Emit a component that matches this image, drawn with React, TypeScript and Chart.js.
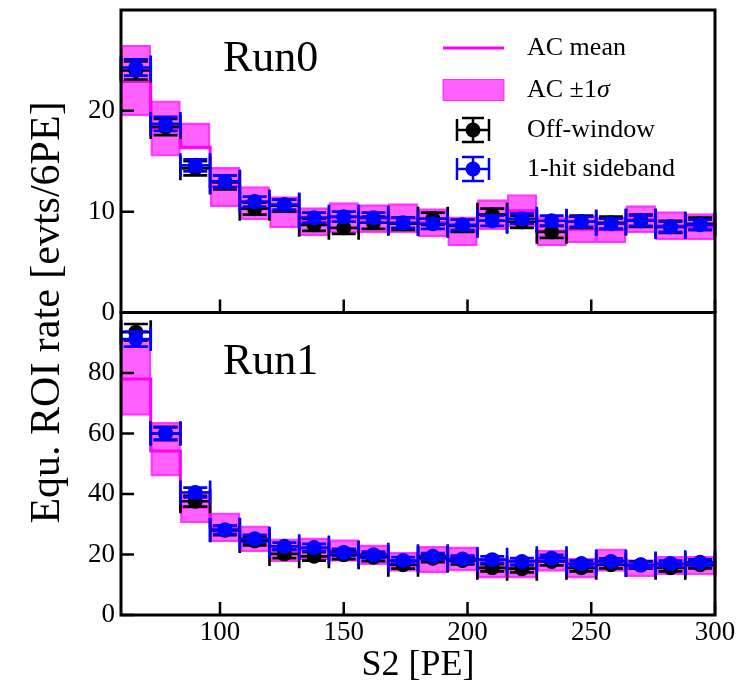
import React, { useEffect, useRef } from "react";
import { Chart, registerables } from "chart.js";

Chart.register(...registerables);

const FONT = '"Liberation Serif", "DejaVu Serif", serif';

// bin edges of the S2 histogram [PE]
const binEdges = [60, 72, 84, 96, 108, 120, 132, 144, 156, 168, 180, 192, 204, 216, 228, 240, 252, 264, 276, 288, 300];

// Run0
const run0AcMean = [22.9, 18.2, 16.4, 12.5, 10.9, 10.0, 9.0, 9.4, 9.3, 9.35, 8.9, 8.05, 9.7, 10.1, 8.05, 8.25, 8.2, 9.25, 8.6, 8.5];
const run0AcLow = [19.5, 15.5, 16.2, 10.5, 9.2, 8.4, 7.6, 7.9, 7.9, 7.9, 7.5, 6.6, 8.2, 8.5, 6.6, 6.9, 6.9, 7.9, 7.2, 7.2];
const run0AcHigh = [26.5, 21.0, 18.8, 14.4, 12.5, 11.5, 10.4, 10.9, 10.7, 10.8, 10.3, 9.5, 11.2, 11.7, 9.5, 9.6, 9.5, 10.6, 10.0, 9.8];
const run0OffWindow = [24.0, 18.4, 14.3, 12.9, 10.3, 10.6, 8.7, 8.4, 8.9, 8.8, 9.3, 8.6, 9.7, 9.0, 8.0, 9.0, 8.9, 9.1, 8.5, 8.8];
const run0OffWindowErr = [0.9, 0.8, 0.7, 0.7, 0.6, 0.6, 0.6, 0.6, 0.6, 0.6, 0.6, 0.6, 0.6, 0.6, 0.6, 0.6, 0.6, 0.6, 0.6, 0.6];
const run0Sideband = [24.3, 18.7, 14.6, 13.0, 11.0, 10.7, 9.4, 9.5, 9.4, 8.9, 8.8, 8.7, 9.1, 9.3, 9.1, 9.0, 8.8, 9.1, 8.5, 8.7];
const run0SidebandErr = [0.8, 0.7, 0.6, 0.6, 0.5, 0.5, 0.5, 0.5, 0.5, 0.5, 0.5, 0.5, 0.5, 0.5, 0.5, 0.5, 0.5, 0.5, 0.5, 0.5];

// Run1
const run1AcMean = [78.0, 54.2, 35.7, 29.0, 25.2, 21.4, 21.8, 21.3, 19.9, 17.5, 18.3, 18.5, 15.5, 15.3, 18.0, 15.5, 18.1, 15.5, 16.3, 16.3];
const run1AcLow = [66.0, 45.9, 30.5, 24.2, 20.9, 17.6, 18.2, 17.7, 16.6, 14.4, 13.9, 14.5, 12.2, 12.2, 14.4, 12.2, 14.4, 12.7, 13.3, 13.3];
const run1AcHigh = [91.0, 63.7, 40.9, 33.8, 29.5, 25.2, 25.5, 24.9, 23.2, 20.7, 22.7, 22.5, 18.8, 18.5, 21.5, 18.8, 21.9, 18.3, 19.4, 19.4];
const run1OffWindow = [93.5, 60.0, 37.6, 28.0, 24.5, 20.2, 19.4, 19.9, 19.1, 16.6, 18.8, 18.0, 15.6, 15.3, 17.7, 15.6, 16.6, 16.5, 15.6, 16.6];
const run1OffWindowErr = [2.7, 2.2, 1.8, 1.6, 1.5, 1.4, 1.4, 1.4, 1.3, 1.3, 1.3, 1.3, 1.2, 1.2, 1.3, 1.2, 1.2, 1.2, 1.2, 1.2];
const run1Sideband = [91.2, 60.0, 40.5, 28.2, 25.2, 22.7, 22.3, 20.7, 19.9, 18.0, 19.4, 18.5, 18.3, 17.7, 18.8, 17.0, 17.7, 16.6, 17.0, 17.4];
const run1SidebandErr = [2.5, 2.0, 1.6, 1.4, 1.3, 1.2, 1.2, 1.2, 1.1, 1.1, 1.1, 1.1, 1.1, 1.1, 1.1, 1.0, 1.0, 1.0, 1.0, 1.0];

const panelNames = ["Run0", "Run1"];
const run0Max = 30;
const run1Max = 100;

const MAGENTA = "#ff00ff";
const BAND = "rgba(255, 0, 255, 0.62)";
const BAND_EDGE = "rgba(255, 0, 255, 0.75)";
const CAP = 12;

const centers = binEdges.slice(0, -1).map((e, i) => (e + binEdges[i + 1]) / 2);

const bandData = (lo: number[], hi: number[]) => centers.map((c, i) => ({ x: c, y: [lo[i], hi[i]] }));
// one point per bin edge; each bin's mean runs from its left edge to the next edge
const stepData = (mean: number[]) =>
  binEdges.map((e, i) => ({ x: e, y: mean[Math.min(i, mean.length - 1)] }));
const pointData = (vals: number[], err: number[]) =>
  centers.map((c, i) => ({
    x: c,
    y: vals[i],
    xMin: binEdges[i],
    xMax: binEdges[i + 1],
    yMin: vals[i] - err[i],
    yMax: vals[i] + err[i],
  }));

function drawErrorIcon(ctx: CanvasRenderingContext2D, cx: number, cy: number, color: string) {
  ctx.strokeStyle = color;
  ctx.fillStyle = color;
  ctx.lineWidth = 2.5;
  ctx.beginPath();
  ctx.moveTo(cx - 16, cy); ctx.lineTo(cx + 16, cy);
  ctx.moveTo(cx - 16, cy - 11); ctx.lineTo(cx - 16, cy + 11);
  ctx.moveTo(cx + 16, cy - 11); ctx.lineTo(cx + 16, cy + 11);
  ctx.moveTo(cx, cy - 12); ctx.lineTo(cx, cy + 12);
  ctx.moveTo(cx - 11, cy - 12); ctx.lineTo(cx + 11, cy - 12);
  ctx.moveTo(cx - 11, cy + 12); ctx.lineTo(cx + 11, cy + 12);
  ctx.stroke();
  ctx.beginPath();
  ctx.arc(cx, cy, 7.5, 0, Math.PI * 2);
  ctx.fill();
}

const errorBarPlugin = {
  id: "errorBars",
  beforeDatasetDraw(chart: any, args: any) {
    const ds = chart.data.datasets[args.index];
    if (!ds.errorBars) return;
    const xs = chart.scales[args.meta.xAxisID];
    const ys = chart.scales[args.meta.yAxisID];
    const ctx = chart.ctx;
    ctx.save();
    ctx.strokeStyle = ds.backgroundColor;
    ctx.lineWidth = 2.7;
    ctx.beginPath();
    ds.data.forEach((p: any) => {
      const x = xs.getPixelForValue(p.x);
      const y = ys.getPixelForValue(p.y);
      const x0 = xs.getPixelForValue(p.xMin);
      const x1 = xs.getPixelForValue(p.xMax);
      const y0 = ys.getPixelForValue(p.yMin);
      const y1 = ys.getPixelForValue(p.yMax);
      ctx.moveTo(x0, y); ctx.lineTo(x1, y);
      ctx.moveTo(x0, y - CAP); ctx.lineTo(x0, y + CAP);
      ctx.moveTo(x1, y - CAP); ctx.lineTo(x1, y + CAP);
      ctx.moveTo(x, y0); ctx.lineTo(x, y1);
      ctx.moveTo(x - CAP, y0); ctx.lineTo(x + CAP, y0);
      ctx.moveTo(x - CAP, y1); ctx.lineTo(x + CAP, y1);
    });
    ctx.stroke();
    ctx.restore();
  },
};

const framePlugin = {
  id: "frames",
  afterDatasetsDraw(chart: any) {
    const ctx = chart.ctx;
    const { left, right } = chart.chartArea;
    const xs = chart.scales.x;
    const panels = [chart.scales.y0, chart.scales.y1];
    ctx.save();
    ctx.strokeStyle = "#000";
    ctx.lineWidth = 2.5;
    ctx.beginPath();
    panels.forEach((ys: any) => {
      ys.ticks.forEach((t: any) => {
        const y = ys.getPixelForValue(t.value);
        ctx.moveTo(left, y); ctx.lineTo(left + 13, y);
      });
      xs.ticks.forEach((t: any) => {
        const x = xs.getPixelForValue(t.value);
        ctx.moveTo(x, ys.bottom); ctx.lineTo(x, ys.bottom - 13);
      });
    });
    ctx.stroke();
    ctx.lineWidth = 3;
    panels.forEach((ys: any) => ctx.strokeRect(left, ys.top, right - left, ys.bottom - ys.top));

    // panel names
    ctx.fillStyle = "#000";
    ctx.font = `44px ${FONT}`;
    ctx.textAlign = "left";
    ctx.textBaseline = "alphabetic";
    panels.forEach((ys: any, i: number) => ctx.fillText(panelNames[i], left + 102, ys.top + 61));

    // y title spanning both panels
    ctx.save();
    ctx.translate(59, (chart.chartArea.top + chart.chartArea.bottom) / 2);
    ctx.rotate(-Math.PI / 2);
    ctx.textAlign = "center";
    ctx.font = `42px ${FONT}`;
    ctx.fillText("Equ. ROI rate [evts/6PE]", 0, 0);
    ctx.restore();

    // legend
    const top = panels[0].top;
    const cx = right - 242;
    const tx = right - 188;
    const rows = [38, 80, 120, 159].map((d) => top + d);
    const labels = chart.data.datasets.filter((d: any) => d.inLegend);
    ctx.font = `26px ${FONT}`;
    ctx.textBaseline = "middle";
    labels.forEach((d: any, i: number) => {
      const cy = rows[i];
      if (d.type === "line") {
        ctx.strokeStyle = MAGENTA;
        ctx.lineWidth = 3;
        ctx.beginPath();
        ctx.moveTo(cx - 30, cy); ctx.lineTo(cx + 31, cy);
        ctx.stroke();
      } else if (d.type === "bar") {
        ctx.fillStyle = BAND;
        ctx.fillRect(cx - 30, cy - 10.5, 61, 21);
        ctx.strokeStyle = BAND_EDGE;
        ctx.lineWidth = 1;
        ctx.strokeRect(cx - 30, cy - 10.5, 61, 21);
      } else {
        drawErrorIcon(ctx, cx, cy, d.backgroundColor);
      }
      ctx.fillStyle = "#000";
      const text: string = d.label;
      if (text.endsWith("σ")) {
        const head = text.slice(0, -1);
        ctx.font = `26px ${FONT}`;
        ctx.fillText(head, tx, cy);
        const w = ctx.measureText(head).width;
        ctx.font = `italic 26px ${FONT}`;
        ctx.fillText("σ", tx + w, cy);
        ctx.font = `26px ${FONT}`;
      } else {
        ctx.fillText(text, tx, cy);
      }
    });
    ctx.restore();
  },
};

const App: React.FC = () => {
  const canvasRef = useRef<HTMLCanvasElement>(null);

  useEffect(() => {
    if (!canvasRef.current) return;
    const ctx = canvasRef.current.getContext("2d");
    if (!ctx) return;

    const panelSets = (yAxisID: string, mean: number[], lo: number[], hi: number[],
      off: number[], offErr: number[], side: number[], sideErr: number[], inLegend: boolean) => [
      {
        type: "line", label: "AC mean", data: stepData(mean), yAxisID, xAxisID: "x",
        borderColor: MAGENTA, borderWidth: 3, pointRadius: 0, stepped: "before", fill: false, order: 2, inLegend,
      },
      {
        type: "bar", label: "AC ±1σ", data: bandData(lo, hi), yAxisID, xAxisID: "x",
        backgroundColor: BAND, borderColor: BAND_EDGE, borderWidth: 1.5, borderSkipped: false,
        barPercentage: 1, categoryPercentage: 1, grouped: false, order: 3, inLegend,
      },
      {
        type: "scatter", label: "Off-window", data: pointData(off, offErr), yAxisID, xAxisID: "x",
        backgroundColor: "#000000", pointRadius: 7.5, pointBorderWidth: 0, order: 1, errorBars: true, inLegend,
      },
      {
        type: "scatter", label: "1-hit sideband", data: pointData(side, sideErr), yAxisID, xAxisID: "x",
        backgroundColor: "#0000ff", pointRadius: 7.5, pointBorderWidth: 0, order: 0, errorBars: true, inLegend,
      },
    ];

    const datasets: any[] = [
      ...panelSets("y0", run0AcMean, run0AcLow, run0AcHigh, run0OffWindow, run0OffWindowErr, run0Sideband, run0SidebandErr, true),
      ...panelSets("y1", run1AcMean, run1AcLow, run1AcHigh, run1OffWindow, run1OffWindowErr, run1Sideband, run1SidebandErr, false),
    ];

    const tickFont = { family: FONT, size: 27 };
    const yScale = (max: number, step: number) => ({
      type: "linear",
      position: "left",
      stack: "panels",
      stackWeight: 1,
      min: 0,
      max,
      ticks: { stepSize: step, font: tickFont, color: "#000", padding: 6 },
      grid: { display: false, drawTicks: false },
      border: { display: false },
      afterBuildTicks: (s: any) => { s.ticks = s.ticks.filter((t: any) => t.value < max); },
      afterFit: (s: any) => { s.width = 121; s.paddingTop = 0; s.paddingBottom = 0; },
    });

    const chart = new Chart(ctx, {
      type: "scatter",
      data: { datasets },
      options: {
        animation: false,
        responsive: false,
        layout: { padding: { top: 10, right: 33, left: 0, bottom: 0 } },
        plugins: { legend: { display: false }, tooltip: { enabled: false } },
        scales: {
          x: {
            type: "linear",
            position: "bottom",
            offset: false,
            min: 60,
            max: 300,
            ticks: { stepSize: 50, includeBounds: false, font: tickFont, color: "#000", padding: 2, maxRotation: 0 },
            grid: { display: false, drawTicks: false, offset: false },
            border: { display: false },
            title: { display: true, text: "S2 [PE]", color: "#000", font: { family: FONT, size: 36 }, padding: { top: 0, bottom: 8 } },
            afterFit: (s: any) => { s.height = 80; s.paddingLeft = 0; s.paddingRight = 0; },
          },
          y1: yScale(run1Max, 20),
          y0: yScale(run0Max, 10),
        },
      } as any,
      plugins: [errorBarPlugin, framePlugin],
    });

    return () => {
      chart.destroy();
    };
  }, []);

  return (
    <div style={{ position: "absolute", left: 0, top: 0, width: 748, height: 695, background: "#fff" }}>
      <canvas ref={canvasRef} width={748} height={695}></canvas>
    </div>
  );
};

export default App;
